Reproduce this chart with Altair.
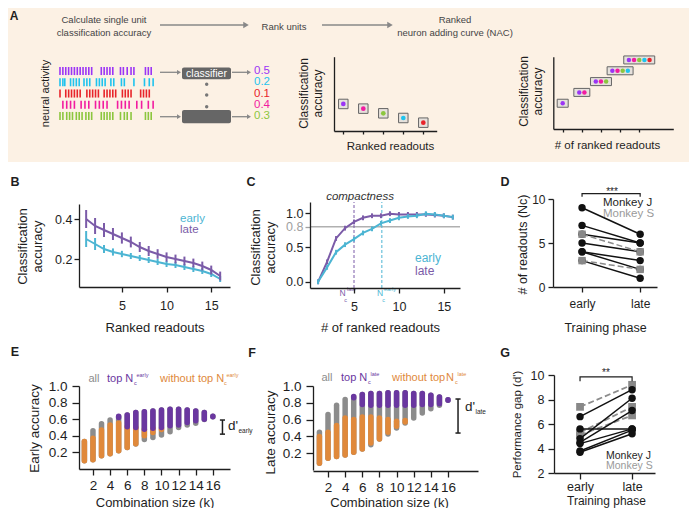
import altair as alt
import pandas as pd

W, H = 681, 500
FONT = "Liberation Sans"
INK = "#1e1e1e"
LATE = "#7b5ba8"
EARLY = "#4cb5d3"
GRAY = "#8c8c8c"
ORANGE = "#e0893b"
TOPP = "#6a37a0"
BEIGE = "#fcf1e4"

# ================= DATA =================
# Panel A (schematic)
neuron_colors = ["#9b35f5", "#1fc3ee", "#e8242a", "#f21ca0", "#8cc63e"]
single_acc = [0.5, 0.2, 0.1, 0.4, 0.3]
spike_times = [
    [0, 3, 6, 9, 12, 15, 18, 21, 24, 27, 30, 33, 43, 46, 49, 52, 55, 63, 66, 70, 74, 77, 89, 92, 95],
    [0, 3, 5, 11, 14, 17, 20, 25, 28, 31, 38, 41, 44, 47, 53, 56, 64, 67, 77, 88, 93, 97],
    [0, 6, 9, 12, 15, 18, 21, 28, 31, 34, 37, 40, 46, 49, 52, 55, 58, 65, 68, 71, 74, 84, 87, 90, 93],
    [3, 7, 11, 15, 22, 26, 30, 37, 41, 45, 49, 60, 64, 68, 72, 80, 85, 92, 97],
    [0, 3, 7, 10, 13, 17, 20, 23, 27, 30, 33, 43, 46, 49, 52, 55, 63, 67, 70, 74, 89, 92, 95],
]
nac_acc = [0.5, 0.6, 0.7, 0.8, 0.9]

# Panel B
ranks = list(range(1, 17))
b_late = [0.40, 0.365, 0.345, 0.325, 0.305, 0.285, 0.26, 0.24, 0.225, 0.21, 0.20, 0.19, 0.18, 0.165, 0.145, 0.115]
b_late_err = [0.045, 0.04, 0.035, 0.03, 0.028, 0.027, 0.025, 0.025, 0.024, 0.023, 0.022, 0.022, 0.022, 0.022, 0.022, 0.022]
b_early = [0.30, 0.275, 0.25, 0.235, 0.225, 0.215, 0.205, 0.195, 0.185, 0.175, 0.17, 0.16, 0.15, 0.14, 0.125, 0.10]
b_early_err = [0.04, 0.03, 0.02, 0.018, 0.016, 0.015, 0.015, 0.015, 0.015, 0.015, 0.015, 0.015, 0.015, 0.015, 0.015, 0.015]

# Panel C
c_late = [0.0, 0.29, 0.63, 0.78, 0.87, 0.93, 0.96, 0.96, 0.99, 0.98, 0.98, 0.98, 0.98, 0.97, 0.96, 0.94]
c_early = [0.0, 0.21, 0.43, 0.54, 0.62, 0.71, 0.77, 0.85, 0.89, 0.93, 0.95, 0.96, 0.99, 0.98, 0.96, 0.94]
c_err = [0.035] * 16
c_thresh = 0.8
nc_late, nc_early = 5.0, 8.1

# Panel D  (early, late) per session
d_J_early = [9, 7, 6, 5, 4, 4, 3]
d_J_late = [6, 5, 5, 4, 3, 2, 1]
d_S_early = [6, 3]
d_S_late = [4, 2]

# Panel E: ranges of accuracy per combination size
ks = list(range(1, 17))
e_all_lo = [0.10, 0.11, 0.16, 0.185, 0.22, 0.26, 0.30, 0.355, 0.38, 0.41, 0.45, 0.50, 0.53, 0.55, 0.595, 0.63]
e_all_hi = [0.33, 0.46, 0.545, 0.59, 0.63, 0.65, 0.68, 0.69, 0.70, 0.71, 0.72, 0.72, 0.71, 0.70, 0.68, 0.635]
e_wo_lo = [0.10, 0.11, 0.16, 0.185, 0.22, 0.26, 0.305, 0.40, 0.44, 0.475]
e_wo_hi = [0.33, 0.37, 0.47, 0.53, 0.555, 0.51, 0.50, 0.48, 0.49, 0.485]
e_top_k = list(range(5, 17))
e_top_lo = [0.62, 0.51, 0.50, 0.48, 0.49, 0.50, 0.52, 0.53, 0.56, 0.58, 0.60, 0.63]
e_top_hi = [0.635, 0.65, 0.68, 0.69, 0.70, 0.71, 0.72, 0.72, 0.71, 0.70, 0.68, 0.635]
e_dprime = [0.42, 0.59]

# Panel F
f_all_lo = [0.08, 0.14, 0.16, 0.18, 0.21, 0.25, 0.30, 0.37, 0.43, 0.50, 0.56, 0.62, 0.68, 0.73, 0.77, 0.83]
f_all_hi = [0.45, 0.66, 0.77, 0.84, 0.87, 0.90, 0.91, 0.91, 0.92, 0.92, 0.92, 0.91, 0.91, 0.89, 0.87, 0.835]
f_wo_lo = [0.08, 0.14, 0.16, 0.18, 0.21, 0.25, 0.32, 0.37, 0.45, 0.52, 0.57]
f_wo_hi = [0.40, 0.45, 0.53, 0.62, 0.60, 0.63, 0.63, 0.62, 0.60, 0.58, 0.59]
f_top_k = list(range(5, 17))
f_top_lo = [0.86, 0.78, 0.77, 0.77, 0.77, 0.77, 0.77, 0.77, 0.78, 0.78, 0.79, 0.83]
f_top_hi = [0.875, 0.90, 0.91, 0.91, 0.92, 0.92, 0.92, 0.91, 0.91, 0.89, 0.87, 0.835]
f_dprime = [0.44, 0.845]

# Panel G
g_J_early = [6.6, 5.6, 4.8, 4.5, 4.4, 3.8, 3.7]
g_J_late = [8.8, 5.6, 8.1, 7.1, 5.6, 5.5, 5.2]
g_S_early = [7.4, 5.3, 5.1]
g_S_late = [9.2, 7.4, 6.7]


# ================= HELPERS =================
def S(dom, rng):
    return alt.Scale(domain=dom, range=rng, nice=False, zero=False)


def X(f, s, axis=None):
    return alt.X(f, type="quantitative", scale=s, axis=axis)


def Y(f, s, axis=None):
    return alt.Y(f, type="quantitative", scale=s, axis=axis)


def AX(orient, pos, values, title="", tX=None, tY=None, fs=12.5, tfs=13, tick=5, pad=2, **kw):
    off = -pos if orient == "left" else pos - H
    d = dict(orient=orient, offset=off, values=values, title=title, labelFontSize=fs,
             titleFontSize=tfs, grid=False, domainColor=INK, tickColor=INK, labelColor=INK,
             titleColor=INK, domainWidth=1.3, tickWidth=1.3, tickSize=tick, labelPadding=pad,
             titleFontWeight="normal", labelOverlap=False, labelFlush=False, titlePadding=0,
             zindex=1)
    if tX is not None:
        d["titleX"] = tX
    if tY is not None:
        d["titleY"] = tY
    if orient == "bottom":
        d["titleBaseline"] = "middle"
    else:
        d["titleBaseline"] = "bottom"
    d.update(kw)
    return alt.Axis(**d)


PX = S([0, W], [0, W])
PY = S([0, H], [0, H])

layers = []


def texts(rows, align="center", baseline="middle", **kw):
    df = pd.DataFrame(rows, columns=["x", "y", "text", "size", "color", "angle"])
    return alt.Chart(df).mark_text(align=align, baseline=baseline, **kw).encode(
        x=X("x", PX), y=Y("y", PY), text="text:N",
        size=alt.Size("size:Q", scale=None),
        color=alt.Color("color:N", scale=None),
        angle=alt.Angle("angle:Q", scale=None))


def arrows(rows, color="#888888", width=1.3, head=30):
    df = pd.DataFrame(rows, columns=["x0", "x1", "y"])
    line = alt.Chart(df).mark_rule(color=color, strokeWidth=width).encode(
        x=X("x0", PX), x2="x1", y=Y("y", PY))
    tip = alt.Chart(df).mark_point(shape="triangle-right", filled=True, size=head, color=color,
                                   opacity=1).encode(x=X("x1", PX), y=Y("y", PY))
    return [line, tip]


# ================= PANEL A =================
layers.append(alt.Chart(pd.DataFrame({"x0": [0], "x1": [W], "y0": [0], "y1": [154]}))
              .mark_rect(color=BEIGE).encode(x=X("x0", PX), x2="x1", y=Y("y0", PY), y2="y1"))

layers += arrows([(152, 238, 17), (314, 382, 17)], head=40)
layers.append(texts([
    (96, 12, "Calculate single unit", 9.5, "#444444", 0),
    (96, 24.5, "classification accuracy", 9.5, "#444444", 0),
    (276, 18.5, "Rank units", 9.5, "#444444", 0),
    (447, 12, "Ranked", 9.5, "#444444", 0),
    (447, 24.5, "neuron adding curve (NAC)", 9.5, "#444444", 0),
    (38, 85.5, "neural activity", 11, INK, 270),
]))

RX = S([0, 100], [52, 148])
RY = S([-0.5, 4.5], [57.4, 113.6])
spk = []
for i, times in enumerate(spike_times):
    for t in times:
        spk.append({"t": t, "y0": i - 0.36, "y1": i + 0.36, "c": neuron_colors[i]})
layers.append(alt.Chart(pd.DataFrame(spk)).mark_rule(strokeWidth=1.6).encode(
    x=X("t", RX), y=Y("y0", RY), y2="y1", color=alt.Color("c:N", scale=None)))

layers += arrows([(152, 171, 64.3), (152, 171, 108.7), (224, 241, 64.3), (224, 241, 108.7)], head=22)
layers.append(alt.Chart(pd.DataFrame({"x0": [174, 174], "x1": [223, 223], "y0": [59.5, 102], "y1": [71.3, 115.3]}))
              .mark_rect(color="#666666", cornerRadius=2).encode(
    x=X("x0", PX), x2="x1", y=Y("y0", PY), y2="y1"))
layers.append(texts([(198.5, 65.6, "classifier", 10.5, "white", 0)]))
layers.append(alt.Chart(pd.DataFrame({"x": [198.7] * 3, "y": [76.3, 87, 98.7]}))
              .mark_circle(size=12, color="#777777", opacity=1).encode(x=X("x", PX), y=Y("y", PY)))
num_df = pd.DataFrame({"x": [246] * 5, "row": list(range(5)),
                       "txt": [f"{a:.1f}" for a in single_acc], "c": neuron_colors})
layers.append(alt.Chart(num_df).mark_text(align="left", baseline="middle", fontSize=11.5).encode(
    x=X("x", PX), y=Y("row", RY), text="txt:N", color=alt.Color("c:N", scale=None)))

# Rank units mini chart
order = sorted(range(5), key=lambda i: -single_acc[i])
rk_df = pd.DataFrame({"rank": [1, 2, 3, 4, 5], "acc": [single_acc[i] for i in order],
                      "c": [neuron_colors[i] for i in order]})
RKX = S([0.535, 5.67], [326, 428.7])
RKY = S([-0.078, 1.51], [123, 48.7])
layers.append(alt.Chart(rk_df).mark_square(size=90, fill="#e6e1dc", stroke="#666666", strokeWidth=1,
                                           opacity=1).encode(
    x=X("rank", RKX, AX("bottom", 123, [1, 2, 3, 4, 5], "Ranked readouts", tX=382, tY=15,
                        fs=11, tfs=11.5, tick=3, labels=False)),
    y=Y("acc", RKY, AX("left", 326, [], ["Classification", "accuracy"], tX=-24, tY=85,
                       tfs=12, ticks=False, labels=False))))
layers.append(alt.Chart(rk_df).mark_circle(size=22, opacity=1).encode(
    x=X("rank", RKX), y=Y("acc", RKY), color=alt.Color("c:N", scale=None)))

# NAC mini chart
NX = S([0.509, 6.78], [545.3, 665.3])
NY = S([0.262, 0.93], [121, 48.7])
box_rows, dot_rows = [], []
for n in range(1, 6):
    half = (5 * n + 6) / 2 / 19.15
    box_rows.append({"x0": n - half, "x1": n + half, "y0": nac_acc[n - 1] - 0.037, "y1": nac_acc[n - 1] + 0.037})
    for j in range(n):
        dot_rows.append({"x": n + (j - (n - 1) / 2) * 0.27, "y": nac_acc[n - 1],
                         "c": neuron_colors[order[j]]})
layers.append(alt.Chart(pd.DataFrame(box_rows)).mark_rect(fill="#e6e1dc", stroke="#666666",
                                                           strokeWidth=1).encode(
    x=X("x0", NX, AX("bottom", 121, [1, 2, 3, 4, 5], "# of ranked readouts", tX=599, tY=16,
                     fs=11, tfs=11.5, tick=3, labels=False)),
    x2="x1",
    y=Y("y0", NY, AX("left", 545.3, [], ["Classification", "accuracy"], tX=-23, tY=83,
                     tfs=12, ticks=False, labels=False)),
    y2="y1"))
layers.append(alt.Chart(pd.DataFrame(dot_rows)).mark_circle(size=20, opacity=1).encode(
    x=X("x", NX), y=Y("y", NY), color=alt.Color("c:N", scale=None)))

# ================= PANEL B =================
BX = S([0.2, 17.1], [71, 222])
BY = S([0.06, 0.475], [279, 196])
b_rows = []
for r, m, e in zip(ranks, b_early, b_early_err):
    b_rows.append({"rank": r, "phase": "early", "m": m, "lo": m - e, "hi": m + e, "c": EARLY})
for r, m, e in zip(ranks, b_late, b_late_err):
    b_rows.append({"rank": r, "phase": "late", "m": m, "lo": m - e, "hi": m + e, "c": LATE})
b_df = pd.DataFrame(b_rows)
layers.append(alt.Chart(b_df).mark_line(strokeWidth=2).encode(
    x=X("rank", BX, AX("bottom", 279, [5, 10, 15], "Ranked readouts", tX=146.5, tY=40, pad=7)),
    y=Y("m", BY, AX("left", 71, [0.2, 0.4], ["Classification", "accuracy"], tX=-50, tY=238,
                    format=".1f")),
    detail="phase:N", color=alt.Color("c:N", scale=None)))
layers.append(alt.Chart(b_df).mark_rule(strokeWidth=2).encode(
    x=X("rank", BX), y=Y("lo", BY), y2="hi", color=alt.Color("c:N", scale=None)))

# ================= PANEL C =================
CX = S([0.1, 16.8], [302, 452])
CY = S([-0.09, 1.16], [280, 194])
layers.append(alt.Chart(pd.DataFrame({"x0": [0.1], "x1": [16.8], "y": [c_thresh]}))
              .mark_rule(color="#b0b0b0", strokeWidth=1.3).encode(x=X("x0", CX), x2="x1", y=Y("y", CY)))
layers.append(alt.Chart(pd.DataFrame({"x": [nc_late, nc_early], "y0": [-0.09, -0.09], "y1": [1.16, 1.16],
                                      "c": [LATE, EARLY]}))
              .mark_rule(strokeWidth=1, strokeDash=[3, 2]).encode(
    x=X("x", CX), y=Y("y0", CY), y2="y1", color=alt.Color("c:N", scale=None)))
c_rows = []
for r, m, e in zip(ranks, c_late, c_err):
    c_rows.append({"n": r, "phase": "a_late", "m": m, "lo": m - e, "hi": m + e, "c": LATE})
for r, m, e in zip(ranks, c_early, c_err):
    c_rows.append({"n": r, "phase": "b_early", "m": m, "lo": m - e, "hi": m + e, "c": EARLY})
c_df = pd.DataFrame(c_rows)
gray_cond = {"condition": {"test": "datum.value == 0.8", "value": "#a0a0a0"}, "value": INK}
layers.append(alt.Chart(c_df).mark_line(strokeWidth=2).encode(
    x=X("n", CX, AX("bottom", 280, [5, 10, 15], "# of ranked readouts", tX=372, tY=39, pad=7)),
    y=Y("m", CY, AX("left", 302, [0.0, 0.5, 0.8, 1.0], ["Classification", "accuracy"], tX=-48, tY=239,
                    format=".1f", labelColor=gray_cond, tickColor=gray_cond)),
    detail="phase:N", color=alt.Color("c:N", scale=None)))
layers.append(alt.Chart(c_df).mark_rule(strokeWidth=2).encode(
    x=X("n", CX), y=Y("lo", CY), y2="hi", color=alt.Color("c:N", scale=None)))

# ================= PANEL D =================
DX = S([-0.5, 1.29], [545, 649])
DY = S([0, 10], [279, 191])


def pairs_df(e_list, l_list, tag):
    rows = []
    for i, (a, b) in enumerate(zip(e_list, l_list)):
        rows.append({"id": f"{tag}{i}", "ph": 0, "v": a})
        rows.append({"id": f"{tag}{i}", "ph": 1, "v": b})
    return pd.DataFrame(rows)


dJ = pairs_df(d_J_early, d_J_late, "J")
dS = pairs_df(d_S_early, d_S_late, "S")
layers.append(alt.Chart(dJ).mark_line(color="#111111", strokeWidth=1.5).encode(
    x=X("ph", DX, AX("bottom", 279, [0, 1], "Training phase", tX=597, tY=40, fs=12, tfs=12.5, pad=6,
                     labelExpr="datum.value == 0 ? 'early' : 'late'")),
    y=Y("v", DY, AX("left", 545, [0, 5, 10], "# of readouts (Nᴄ)", tX=-24, tY=236, fs=12, tfs=12.5,
                    pad=3)),
    detail="id:N"))
layers.append(alt.Chart(dS).mark_line(color=GRAY, strokeWidth=1.5, strokeDash=[6, 3]).encode(
    x=X("ph", DX), y=Y("v", DY), detail="id:N"))
layers.append(alt.Chart(dJ).mark_circle(color="#111111", size=55, opacity=1).encode(x=X("ph", DX), y=Y("v", DY)))
layers.append(alt.Chart(dS).mark_square(color="#888888", size=55, opacity=1).encode(x=X("ph", DX), y=Y("v", DY)))
layers.append(alt.Chart(pd.DataFrame({"x": [0, 0, 1, 1], "y": [10.25, 10.6, 10.6, 10.25], "o": [0, 1, 2, 3]}))
              .mark_line(color=INK, strokeWidth=1.2).encode(x=X("x", DX), y=Y("y", DY), order="o:Q"))

# ================= PANEL E / F =================
def range_layers(xs, ys, all_lo, all_hi, wo_lo, wo_hi, tk, t_lo, t_hi, xaxis, yaxis):
    out = []
    d_all = pd.DataFrame({"k": ks, "lo": all_lo, "hi": all_hi})
    d_wo = pd.DataFrame({"k": ks[:len(wo_lo)], "lo": wo_lo, "hi": wo_hi})
    d_top = pd.DataFrame({"k": tk, "lo": t_lo, "hi": t_hi})
    out.append(alt.Chart(d_all).mark_rule(color=GRAY, strokeWidth=5.5, strokeCap="round").encode(
        x=X("k", xs, xaxis), y=Y("lo", ys, yaxis), y2="hi"))
    out.append(alt.Chart(d_wo).mark_rule(color=ORANGE, strokeWidth=5.5, strokeCap="round").encode(
        x=X("k", xs), y=Y("lo", ys), y2="hi"))
    out.append(alt.Chart(d_top).mark_rule(color=TOPP, strokeWidth=5.5, strokeCap="round").encode(
        x=X("k", xs), y=Y("lo", ys), y2="hi"))
    return out


def dprime_layers(xs, ys, kx, lo, hi, cap):
    v = pd.DataFrame({"x": [kx], "lo": [lo], "hi": [hi]})
    h = pd.DataFrame({"x0": [kx - cap, kx - cap], "x1": [kx + cap, kx + cap], "y": [lo, hi]})
    return [alt.Chart(v).mark_rule(color=INK, strokeWidth=1.5).encode(x=X("x", xs), y=Y("lo", ys), y2="hi"),
            alt.Chart(h).mark_rule(color=INK, strokeWidth=1.5).encode(x=X("x0", xs), x2="x1", y=Y("y", ys))]


EX = S([0.37, 18.0], [71, 222])
EY = S([0, 1], [461, 378])
kticks = [2, 4, 6, 8, 10, 12, 14, 16]
accticks = [0.2, 0.4, 0.6, 0.8, 1.0]
layers += range_layers(EX, EY, e_all_lo, e_all_hi, e_wo_lo, e_wo_hi, e_top_k, e_top_lo, e_top_hi,
                       AX("bottom", 461, kticks, "Combination size (k)", tX=146.5, tY=33, fs=13.5, tfs=13,
                          tick=6, pad=3),
                       AX("left", 71, accticks, "Early accuracy", tX=-38, tY=420, fs=13.5, tfs=13.5,
                          tick=7, pad=5, format=".1f"))
layers += dprime_layers(EX, EY, 17.12, e_dprime[0], e_dprime[1], 0.3)

FX = S([0.25, 19.5], [305, 470])
FY = S([0, 1], [462, 378])
layers += range_layers(FX, FY, f_all_lo, f_all_hi, f_wo_lo, f_wo_hi, f_top_k, f_top_lo, f_top_hi,
                       AX("bottom", 463, kticks, "Combination size (k)", tX=381, tY=31, fs=13.5, tfs=13,
                          tick=6, pad=3),
                       AX("left", 305, accticks, "Late accuracy", tX=-36, tY=424, fs=13.5, tfs=13.5,
                          tick=7, pad=5, format=".1f"))
layers += dprime_layers(FX, FY, 17.17, f_dprime[0], f_dprime[1], 0.3)

# ================= PANEL G =================
GX = S([-0.5, 1.44], [546, 647])
GY = S([2, 10], [465, 367])
gJ = pairs_df(g_J_early, g_J_late, "J")
gS = pairs_df(g_S_early, g_S_late, "S")
layers.append(alt.Chart(gS).mark_line(color=GRAY, strokeWidth=1.8, strokeDash=[6, 3]).encode(
    x=X("ph", GX, AX("bottom", 465, [0, 1], "Training phase", tX=598, tY=27.5, fs=12.5, tfs=12, pad=1,
                     tick=6, labelExpr="datum.value == 0 ? 'early' : 'late'")),
    y=Y("v", GY, AX("left", 546, [2, 4, 6, 8, 10], "Performance gap (d')", tX=-32, tY=416, fs=12.5,
                    tfs=11.5, tick=6, pad=4)),
    detail="id:N"))
layers.append(alt.Chart(gS).mark_square(color="#888888", size=60, opacity=1).encode(x=X("ph", GX), y=Y("v", GY)))
layers.append(alt.Chart(gJ).mark_line(color="#111111", strokeWidth=1.5).encode(
    x=X("ph", GX), y=Y("v", GY), detail="id:N"))
layers.append(alt.Chart(gJ).mark_circle(color="#111111", size=55, opacity=1).encode(x=X("ph", GX), y=Y("v", GY)))
layers.append(alt.Chart(pd.DataFrame({"x": [0, 0, 1, 1], "y": [9.5, 9.84, 9.84, 9.5], "o": [0, 1, 2, 3]}))
              .mark_line(color=INK, strokeWidth=1.2).encode(x=X("x", GX), y=Y("y", GY), order="o:Q"))

# ================= ANNOTATION TEXT =================
layers.append(texts([
    (6, 7.5, "A", 12, INK, 0), (7, 174, "B", 12.5, INK, 0), (243, 174, "C", 12.5, INK, 0),
    (497, 174, "D", 12.5, INK, 0), (7, 344, "E", 12.5, INK, 0), (244, 345, "F", 12.5, INK, 0),
    (497, 345, "G", 12.5, INK, 0),
], fontWeight="bold"))
layers.append(texts([
    (352, 189, "compactness", 11.5, "#333333", 0),
], fontStyle="italic"))
layers.append(texts([
    (604, 184, "***", 10, INK, 0), (598, 365, "**", 10, INK, 0),
    (86, 371, "all", 11, GRAY, 0), (319, 370, "all", 11, GRAY, 0),
    (334.5, 285, "N", 8.5, LATE, 0), (337.5, 291.5, "c", 5.5, LATE, 0),
    (372, 285, "N", 8.5, EARLY, 0), (375.5, 291.5, "c", 5.5, EARLY, 0),
]))
layers.append(texts([
    (172, 210.5, "early", 11.5, EARLY, 0), (172, 221.5, "late", 11.5, LATE, 0),
    (407, 250, "early", 12, EARLY, 0), (407, 262.5, "late", 12, LATE, 0),
    (339, 280.5, "late", 5.5, LATE, 0), (376, 280.5, "early", 5.5, EARLY, 0),
    (99, 371, "top N", 11, TOPP, 0), (126, 374.5, "c", 5.5, TOPP, 0), (128.5, 367, "early", 5.5, TOPP, 0),
    (152, 371, "without top N", 11, ORANGE, 0), (216, 374.5, "c", 5.5, ORANGE, 0),
    (218.5, 367, "early", 5.5, ORANGE, 0),
    (333, 370, "top N", 11, TOPP, 0), (360, 373.5, "c", 5.5, TOPP, 0), (362.5, 366, "late", 5.5, TOPP, 0),
    (384, 370, "without top", 11, ORANGE, 0), (438, 370, "N", 11, ORANGE, 0),
    (447, 373.5, "c", 5.5, ORANGE, 0), (449.5, 366, "late", 5.5, ORANGE, 0),
    (220, 418, "d'", 13.5, INK, 0), (230.5, 422.5, "early", 6.5, INK, 0),
    (457, 399, "d'", 13.5, INK, 0), (467.5, 403.5, "late", 6.5, INK, 0),
], align="left"))
layers.append(texts([
    (595, 195, "Monkey J", 11.5, INK, 0), (595, 205.5, "Monkey S", 11.5, "#9a9a9a", 0),
    (598, 447.5, "Monkey J", 10.5, INK, 0), (598, 458, "Monkey S", 10.5, "#9a9a9a", 0),
], align="left"))

chart = (alt.layer(*layers)
         .resolve_scale(x="independent", y="independent")
         .resolve_axis(x="independent", y="independent")
         .properties(width=W, height=H, autosize=alt.AutoSizeParams(type="none"), padding=0,
                     background="white")
         .configure(font=FONT)
         .configure_view(stroke=None)
         .configure_axis(grid=False, labelFont=FONT, titleFont=FONT))

chart.save("out.html", embed_options={"renderer": "svg", "actions": False})
